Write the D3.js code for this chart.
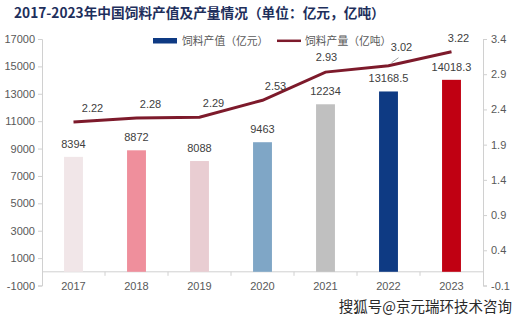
<!DOCTYPE html>
<html>
<head>
<meta charset="utf-8">
<script src="https://cdn.jsdelivr.net/npm/d3@7"></script>
<style>
  body { margin: 0; background: #fff; }
  text { font-family: "Liberation Sans", Arial, sans-serif; }
  .cjk { font-family: "Noto Sans CJK SC", sans-serif; }
</style>
</head>
<body>
<div id="chart-area"></div>
<script>
// Data
var years = ["2017", "2018", "2019", "2020", "2021", "2022", "2023"];
var outputValue = [8394, 8872, 8088, 9463, 12234, 13168.5, 14018.3];   // 亿元
var outputVolume = [2.22, 2.28, 2.29, 2.53, 2.93, 3.02, 3.22];         // 亿吨
var barColors = ["#f1e6e8", "#ef8f9c", "#e9cdd2", "#7fa6c6", "#c0c0c0", "#0e3a83", "#c00012"];
var leftTicks = [-1000, 1000, 3000, 5000, 7000, 9000, 11000, 13000, 15000, 17000];
var rightTicks = [-0.1, 0.4, 0.9, 1.4, 1.9, 2.4, 2.9, 3.4];

var width = 530, height = 323;
var plot = {left: 42, right: 483, top: 39, bottom: 285.5};
var axisColor = "#d0d0d0", labelColor = "#595959", lineColor = "#7d1a2b";

var svg = d3.select("#chart-area")
    .append("svg")
    .attr("width", width)
    .attr("height", height);

// Scales
var x = d3.scaleBand()
    .domain(years)
    .range([plot.left, plot.right])
    .paddingInner(0.7)
    .paddingOuter(0.35);

var yL = d3.scaleLinear().domain([-1000, 17000]).range([plot.bottom, plot.top]);
var yR = d3.scaleLinear().domain([-0.1, 3.4]).range([plot.bottom, plot.top]);
var cx = (d) => x(d) + x.bandwidth() / 2;

// Title
svg.append("text")
    .attr("class", "cjk")
    .attr("x", 14)
    .attr("y", 18)
    .attr("font-size", "13.7px")
    .attr("font-weight", "bold")
    .style("fill", "#1e2f5c")
    .text("2017-2023年中国饲料产值及产量情况（单位：亿元，亿吨）");

// Left axis (plain hyphen for negatives, like Excel)
var leftAxis = d3.axisLeft(yL).tickValues(leftTicks).tickSize(4).tickPadding(3)
    .tickFormat((d) => String(d));
var gl = svg.append("g")
    .attr("transform", "translate(" + plot.left + ",0)")
    .call(leftAxis);
gl.select(".domain").attr("stroke", axisColor);
gl.selectAll(".tick line").attr("stroke", axisColor);
gl.selectAll(".tick text").attr("font-size", "11px").style("fill", labelColor)
    .style("font-family", "'Liberation Sans', Arial, sans-serif");

// Right axis
var rightAxis = d3.axisRight(yR).tickValues(rightTicks).tickSize(4).tickPadding(4)
    .tickFormat((d) => d.toFixed(1));
var gr = svg.append("g")
    .attr("transform", "translate(" + plot.right + ",0)")
    .call(rightAxis);
gr.select(".domain").attr("stroke", axisColor);
gr.selectAll(".tick line").attr("stroke", axisColor);
gr.selectAll(".tick text").attr("font-size", "11px").style("fill", labelColor)
    .style("font-family", "'Liberation Sans', Arial, sans-serif");

// Category axis at zero
var y0 = yL(0);
svg.append("line")
    .attr("x1", plot.left).attr("x2", plot.right)
    .attr("y1", y0).attr("y2", y0)
    .attr("stroke", axisColor);
svg.selectAll(".xtick")
    .data(years.slice(1))
    .enter().append("line")
    .attr("x1", (d) => x(d) - x.step() * x.paddingInner() / 2)
    .attr("x2", (d) => x(d) - x.step() * x.paddingInner() / 2)
    .attr("y1", y0).attr("y2", y0 + 4)
    .attr("stroke", axisColor);
svg.selectAll(".xlabel")
    .data(years)
    .enter().append("text")
    .attr("x", cx)
    .attr("y", 290)
    .attr("text-anchor", "middle")
    .attr("font-size", "11px")
    .style("fill", labelColor)
    .text((d) => d);

// Bars
svg.selectAll(".bar")
    .data(outputValue)
    .enter().append("rect")
    .attr("x", (d, i) => x(years[i]))
    .attr("y", (d) => yL(d))
    .attr("width", x.bandwidth())
    .attr("height", (d) => y0 - yL(d))
    .attr("fill", (d, i) => barColors[i]);

svg.selectAll(".barlabel")
    .data(outputValue)
    .enter().append("text")
    .attr("x", (d, i) => cx(years[i]))
    .attr("y", (d) => yL(d) - 9)
    .attr("text-anchor", "middle")
    .attr("font-size", "11px")
    .style("fill", "#404040")
    .text((d) => d);

// Line
var line = d3.line()
    .x((d, i) => cx(years[i]))
    .y((d) => yR(d));
svg.append("path")
    .datum(outputVolume)
    .attr("d", line)
    .attr("fill", "none")
    .attr("stroke", lineColor)
    .attr("stroke-width", 3);

// line labels (nudged like the original)
var lineDx = [19, 14, 14, 13, 1, 13, 7];
var lineDy = [-10, -10, -10, -10, -11, -15, -10];
svg.append("line")
    .attr("x1", cx("2022") + 3).attr("y1", yR(3.02) - 3)
    .attr("x2", cx("2022") + 10).attr("y2", yR(3.02) - 8)
    .attr("stroke", "#a0a0a0");
svg.selectAll(".linelabel")
    .data(outputVolume)
    .enter().append("text")
    .attr("x", (d, i) => cx(years[i]) + lineDx[i])
    .attr("y", (d, i) => yR(d) + lineDy[i])
    .attr("text-anchor", "middle")
    .attr("font-size", "11px")
    .style("fill", "#404040")
    .text((d) => d.toFixed(2));

// Legend
svg.append("rect")
    .attr("x", 153).attr("y", 38)
    .attr("width", 24).attr("height", 5.5)
    .attr("fill", barColors[5]);
svg.append("text")
    .attr("class", "cjk")
    .attr("x", 182).attr("y", 45)
    .attr("font-size", "10.8px")
    .style("fill", labelColor)
    .text("饲料产值（亿元）");
svg.append("line")
    .attr("x1", 277).attr("x2", 301)
    .attr("y1", 40.8).attr("y2", 40.8)
    .attr("stroke", lineColor)
    .attr("stroke-width", 2.5);
svg.append("text")
    .attr("class", "cjk")
    .attr("x", 305).attr("y", 45)
    .attr("font-size", "10.8px")
    .style("fill", labelColor)
    .text("饲料产量（亿吨）");

// Watermark
svg.append("text")
    .attr("class", "cjk")
    .attr("x", 512).attr("y", 312)
    .attr("text-anchor", "end")
    .attr("font-size", "14.5px")
    .attr("stroke", "#ffffff")
    .attr("stroke-width", 2.5)
    .attr("paint-order", "stroke")
    .style("fill", "#2a2a2a")
    .text("搜狐号@京元瑞环技术咨询");
</script>
</body>
</html>
